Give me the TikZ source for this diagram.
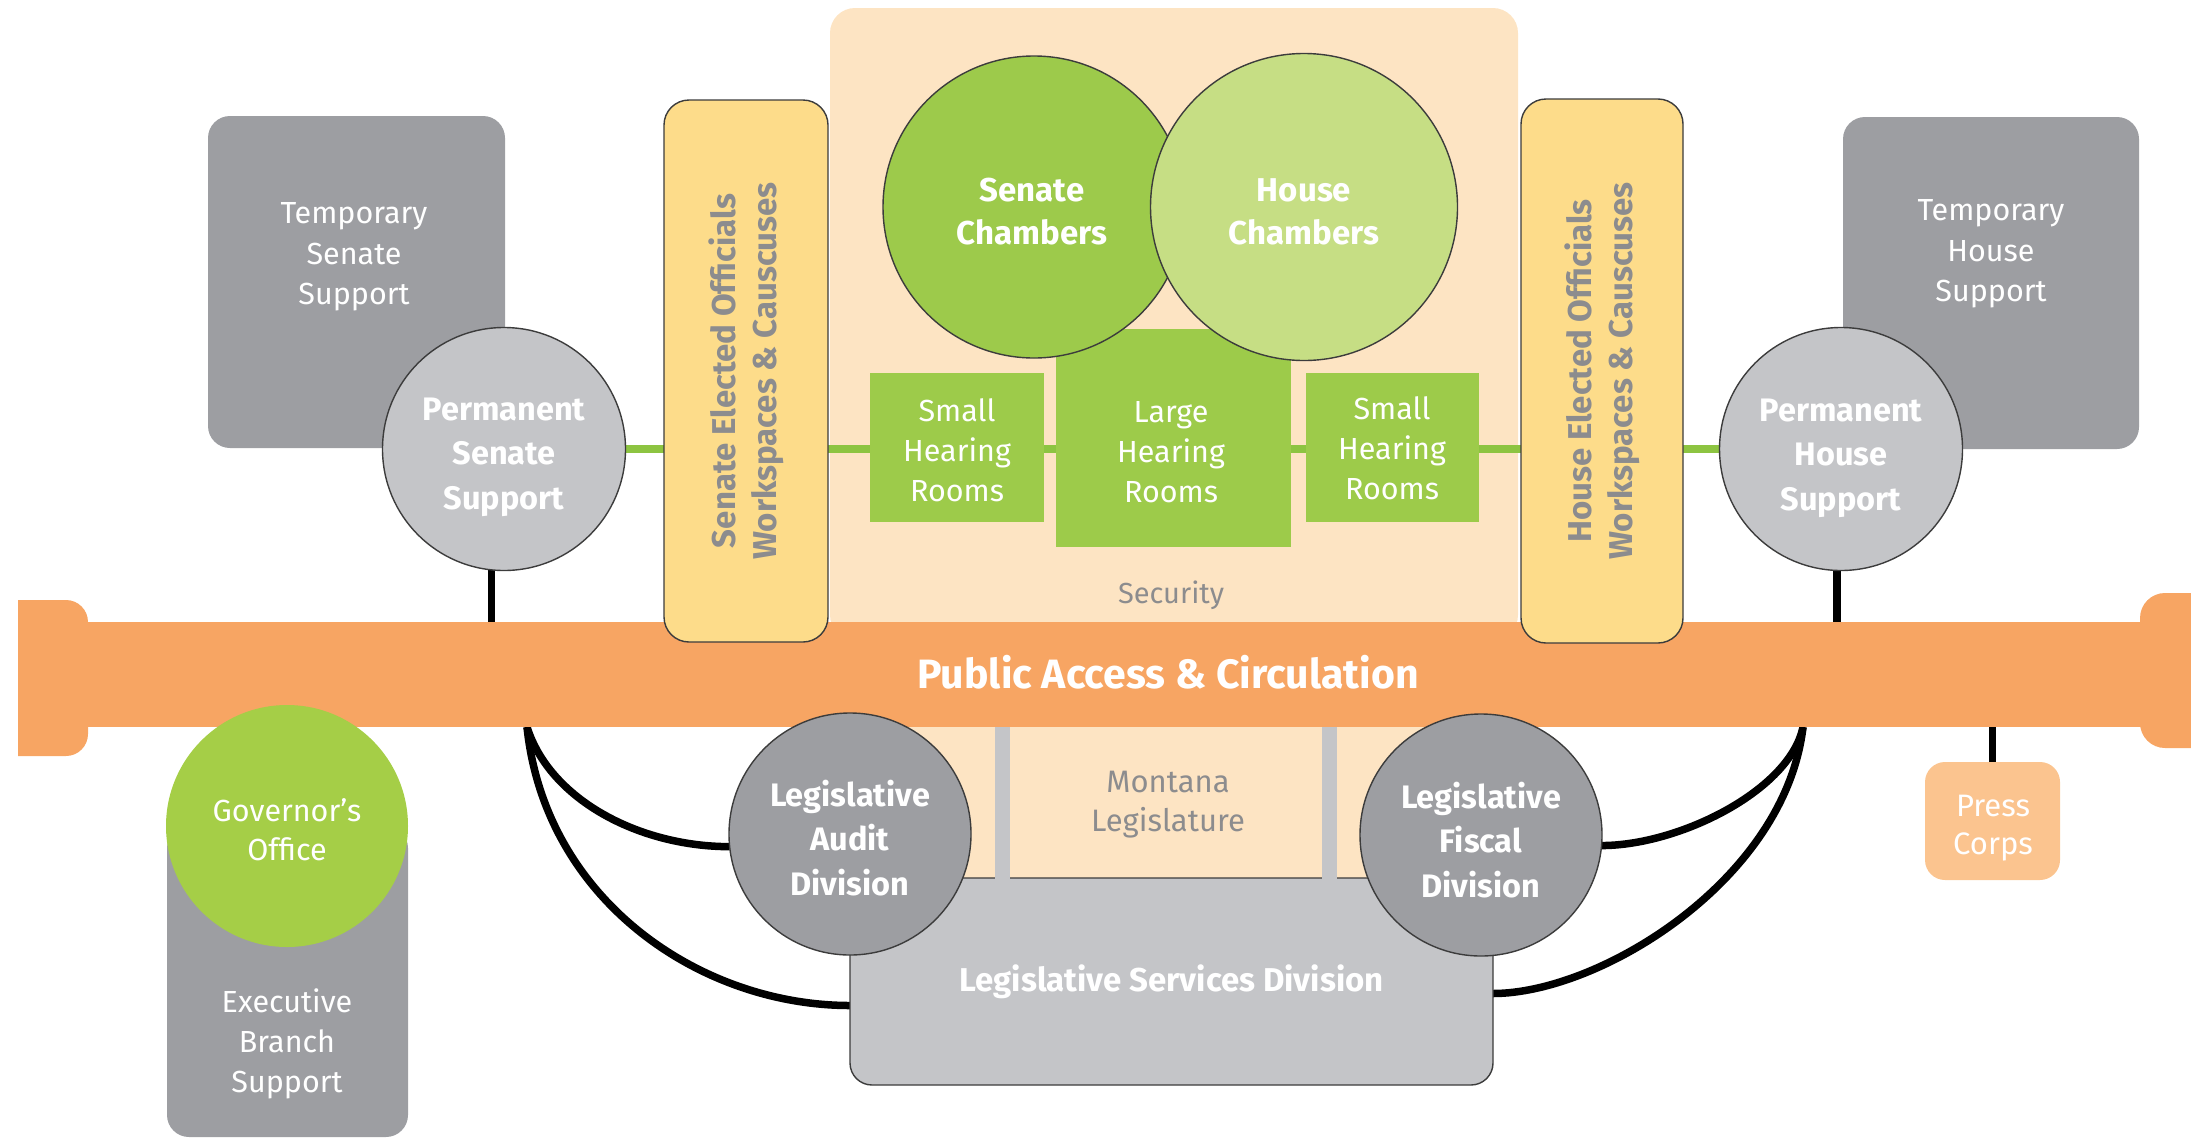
\documentclass[tikz,border=0pt]{standalone}
\usepackage{fontspec}
\setmainfont{Fira Sans}
\usetikzlibrary{calc}

\definecolor{barorange}{HTML}{F7A563}
\definecolor{beige}{HTML}{FDE4C3}
\definecolor{yellowbox}{HTML}{FDDC8A}
\definecolor{darkgray}{HTML}{9D9EA2}
\definecolor{lightgray}{HTML}{C4C5C8}
\definecolor{senategreen}{HTML}{9DCA4B}
\definecolor{housegreen}{HTML}{C6DE84}
\definecolor{roomgreen}{HTML}{9DCB4A}
\definecolor{govgreen}{HTML}{A5CE47}
\definecolor{linegreen}{HTML}{8DC441}
\definecolor{pressorange}{HTML}{FBC48F}
\definecolor{textgray}{HTML}{8C8C8E}
\definecolor{rimgray}{HTML}{3C3C3C}

\pgfdeclarelayer{back}
\pgfdeclarelayer{mid}
\pgfsetlayers{back,mid,main}

\tikzset{
  base/.style={inner sep=0pt, outer sep=0pt, align=center},
  rim/.style={draw=rimgray, line width=1.4pt},
  tempbox/.style={base, rectangle, rounded corners=22pt, fill=darkgray},
  lighttext/.style={base, text=white},
  permcirc/.style={base, circle, rim, fill=lightgray, minimum size=243pt},
  divcirc/.style={base, circle, rim, fill=darkgray, minimum size=242pt},
  boldtext/.style={base, text=white, font=\bfseries\fontsize{32.5}{44.5}\selectfont},
  chamber/.style={base, circle, rim},
  chambertext/.style={base, text=white, font=\bfseries\fontsize{33}{43}\selectfont},
  roombox/.style={base, rectangle, fill=roomgreen},
  roomtext/.style={base, text=white, font=\fontsize{30.5}{40}\selectfont},
  yellowcol/.style={base, rectangle, rim, rounded corners=25pt, fill=yellowbox, rotate=90,
    text=textgray, font=\bfseries\fontsize{33}{41}\selectfont},
  graytext/.style={base, text=textgray},
  link/.style={line width=7.5pt, black},
  greenline/.style={line width=8pt, linegreen},
  pillar/.style={fill=lightgray}
}

\begin{document}
\begin{tikzpicture}[x=1pt,y=-1pt]
\useasboundingbox (0,0) rectangle (2191,1138);

% ---- backdrop of the chambers wing and the lower legislature wing
\begin{pgfonlayer}{back}
  \fill[beige, rounded corners=25pt] (830,8) rectangle (1518,640);
  \fill[beige] (850,715) rectangle (1493,900);
\end{pgfonlayer}

% ---- temporary support rooms
\node[tempbox, minimum width=297pt, minimum height=332pt] (tss) at (356.5,282) {};
\node[lighttext, font=\fontsize{30.5}{40.5}\selectfont] (tsst) at (354,257) {Temporary\\Senate\\Support};
\node[tempbox, minimum width=296pt, minimum height=332pt] (ths) at (1991,283) {};
\node[lighttext, font=\fontsize{30.5}{40.5}\selectfont] (thst) at (1991,254) {Temporary\\House\\Support};

% ---- circulation spine
\node[base, rectangle, fill=barorange, minimum width=2173pt, minimum height=105pt] (bar) at (1104.5,674.5) {};
\begin{scope}
  \clip (18,0) rectangle (2191,1138);
  \fill[barorange, rounded corners=22pt] (-20,600) rectangle (88,756);
  \fill[barorange, rounded corners=25pt] (2140,593) rectangle (2240,748);
\end{scope}
\node[base, text=white, font=\bfseries\fontsize{41}{47}\selectfont] (title) at (1168,672) {Public Access \& Circulation};

% ---- elected officials columns
\node[yellowcol, minimum width=542pt, minimum height=164pt] (sey) at (746,371)
  {Senate Elected Officials\\Workspaces \& Causcuses};
\node[yellowcol, minimum width=544pt, minimum height=162pt] (hey) at (1602,371)
  {House Elected Officials\\Workspaces \& Causcuses};

% ---- permanent support
\node[permcirc] (pss) at (504,449) {};
\node[boldtext] (psst) at (504,457) {Permanent\\Senate\\Support};
\node[permcirc] (phs) at (1841,449) {};
\node[boldtext] (phst) at (1841,458) {Permanent\\House\\Support};

% ---- hearing rooms
\node[roombox, minimum width=174pt, minimum height=149pt] (shl) at (957,447.5) {};
\node[roomtext] (shlt) at (957,450) {Small\\Hearing\\Rooms};
\node[roombox, minimum width=235pt, minimum height=218pt] (lhr) at (1173.5,438) {};
\node[roomtext] (lhrt) at (1171,452) {Large\\Hearing\\Rooms};
\node[roombox, minimum width=173pt, minimum height=149pt] (shr) at (1392.5,447.5) {};
\node[roomtext] (shrt) at (1392,448) {Small\\Hearing\\Rooms};

% ---- chambers
\node[chamber, fill=senategreen, minimum size=302pt] (sch) at (1034,207) {};
\node[chamber, fill=housegreen, minimum size=307pt] (hch) at (1304,207) {};
\node[chambertext] (scht) at (1032,212) {Senate\\Chambers};
\node[chambertext] (hcht) at (1304,212) {House\\Chambers};

\node[graytext, font=\fontsize{29}{40}\selectfont] (sec) at (1171,595) {Security};

% ---- legislative divisions
\node[base, rectangle, rim, rounded corners=22pt, fill=lightgray, minimum width=643pt, minimum height=207pt,
  text=white, font=\bfseries\fontsize{33}{40}\selectfont] (lsd) at (1171.5,981.5) {Legislative Services Division};
\fill[pillar] (995,727) rectangle (1010,880);
\fill[pillar] (1322,727) rectangle (1337,880);
\node[graytext, font=\fontsize{31}{39}\selectfont] (mtl) at (1168,805) {Montana\\Legislature};
\node[divcirc] (lad) at (850,834) {};
\node[boldtext] (ladt) at (850,838) {Legislative\\Audit\\Division};
\node[divcirc] (lfd) at (1481,835) {};
\node[boldtext] (lfdt) at (1481,840) {Legislative\\Fiscal\\Division};

% ---- executive branch
\node[base, rectangle, rounded corners=22pt, fill=darkgray, minimum width=241pt, minimum height=311pt] (ebs) at (287.5,981.5) {};
\node[lighttext, font=\fontsize{30.5}{40}\selectfont] (ebst) at (287,1044) {Executive\\Branch\\Support};
\node[base, circle, fill=govgreen, minimum size=242pt] (gov) at (287,826) {};
\node[lighttext, font=\fontsize{30.5}{39}\selectfont] (govt) at (287,830) {Governor's\\Office};

% ---- press
\node[base, rectangle, rounded corners=20pt, fill=pressorange, minimum width=135pt, minimum height=118pt] (prc) at (1992.5,821) {};
\node[lighttext, font=\fontsize{31}{38}\selectfont] (prct) at (1993,828) {Press\\Corps};

% ---- connectors
\coordinate (tapL) at (527,727);
\coordinate (tapR) at (1803,727);
\begin{pgfonlayer}{mid}
  \draw[greenline] (pss.east) -- (phs.west);
  \draw[link] (pss.264) -- (pss.264 |- bar.north);
  \draw[link] (phs.268) -- (phs.268 |- bar.north);
  \draw[link] (prc.north) -- (prc.north |- bar.south);
  \draw[link] (tapL) .. controls +(23,73) and +(-90,0) .. (lad.186);
  \draw[link] (tapL) .. controls +(18,173) and +(-150,0) .. ($(lsd.west)+(0,24)$);
  \draw[link] (tapR) .. controls +(-13,63) and +(78,0) .. (lfd.-5);
  \draw[link] (tapR) .. controls +(-18,153) and +(107,0) .. ($(lsd.east)+(0,12)$);
\end{pgfonlayer}
\end{tikzpicture}
\end{document}
